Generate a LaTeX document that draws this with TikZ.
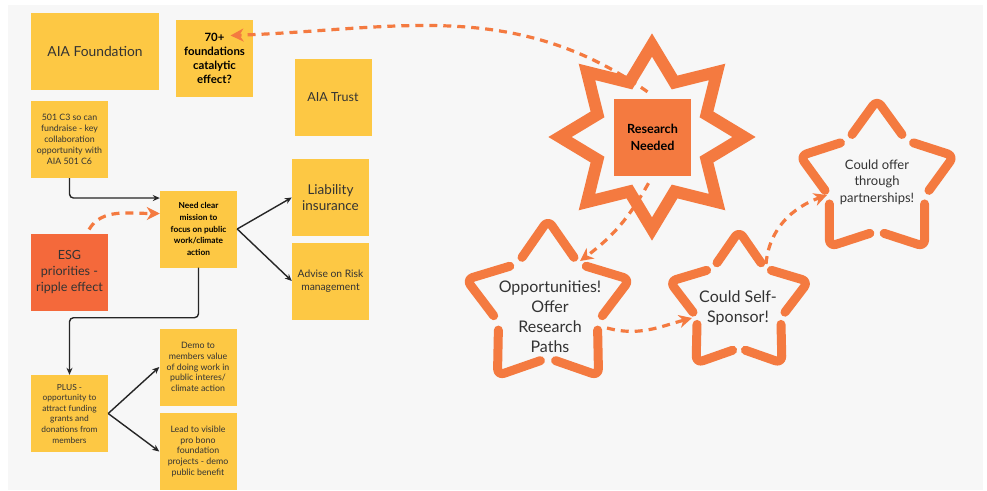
\documentclass[tikz,border=0pt]{standalone}
\usepackage{fontspec}
\setmainfont{Lato}
\usetikzlibrary{arrows.meta, calc, positioning}
\definecolor{stickyyellow}{HTML}{FDC844}
\definecolor{esgred}{HTML}{F4693B}
\definecolor{starorange}{HTML}{F47A40}
\definecolor{inkgray}{HTML}{333333}
\definecolor{boardgray}{HTML}{F7F7F7}

\begin{document}
\begin{tikzpicture}[x=1pt, y=-1pt,
  every node/.style={text=inkgray, align=center, inner sep=1pt},
  sticky/.style={fill=stickyyellow, minimum width=77pt, minimum height=77pt},
  hotsticky/.style={sticky, fill=esgred},
  flow/.style={-{Stealth[length=7pt, width=6pt]}, line width=1.4pt, black!85, rounded corners=4pt},
  hint/.style={-{Stealth[length=13pt, width=13pt, inset=4pt]}, line width=3.2pt, starorange, dash pattern=on 8pt off 6pt},
  starline/.style={line width=9pt, starorange, line cap=round, line join=round, rounded corners=7pt},
  burstline/.style={line width=12pt, starorange, line join=miter},
]
\useasboundingbox (0,0) rectangle (987,490);
\fill[white] (0,0) rectangle (987,490);
\fill[boardgray] (8,5) rectangle (983,490);

% Star outlines
\coordinate (burst) at (652,137);
\coordinate (oppstar) at (548,306);
\coordinate (selfstar) at (739,304);
\coordinate (offerstar) at (877,181);

\draw[burstline] ($(burst)+(67.5:59pt)$)
  \foreach \k in {0,...,6}{ -- ($(burst)+(90+45*\k:92pt)$) -- ($(burst)+(112.5+45*\k:59pt)$)}
  -- ($(burst)+(45:92pt)$) -- cycle;

\foreach \s/\R/\r in {oppstar/86pt/52pt, selfstar/73pt/44pt, offerstar/81pt/50pt}
  \foreach \a in {90,162,234,306,378}
    \draw[starline] ($(\s)+0.85*(\a-36:\r)+0.15*(\a:\R)$) -- ($(\s)+(\a:\R)$)
      -- ($(\s)+0.85*(\a+36:\r)+0.15*(\a:\R)$);

% Define nodes
\node[sticky, minimum width=128pt, font=\fontsize{13.8}{16}\selectfont] (found) at (95,51.5) {AIA Foundation};
\node[sticky, text=black, font=\bfseries\fontsize{11.4}{14}\selectfont] (seventy) at (214.5,58.5) {70+\\foundations\\catalytic\\effect?};
\node[sticky, font=\fontsize{12.5}{14}\selectfont] (trust) at (333,97.5) {AIA Trust};
\node[sticky, font=\fontsize{8.8}{11}\selectfont] (c3) at (69.5,139.5) {501 C3 so can\\fundraise - key\\collaboration\\opportunity with\\AIA 501 C6};
\node[sticky, text=black, font=\bfseries\fontsize{8.3}{11.7}\selectfont] (need) at (198.5,229) {Need clear\\mission to\\focus on public\\work/climate\\action};
\node[sticky, font=\fontsize{13.5}{15.7}\selectfont] (liab) at (330.5,197.5) {Liability\\insurance};
\node[sticky, font=\fontsize{10.3}{12.7}\selectfont] (advise) at (330.5,281) {Advise on Risk\\management};
\node[hotsticky, font=\fontsize{12.6}{16}\selectfont] (esg) at (69.5,272.5) {ESG\\priorities -\\ripple effect};
\node[sticky, font=\fontsize{8.4}{10.6}\selectfont] (plus) at (69.5,413.5) {PLUS -\\opportunity to\\attract funding\\grants and\\donations from\\members};
\node[sticky, font=\fontsize{8.8}{10.8}\selectfont] (demo) at (198,367) {Demo to\\members value\\of doing work in\\public interes/\\climate action};
\node[sticky, font=\fontsize{8.8}{10.8}\selectfont] (lead) at (198,451.5) {Lead to visible\\pro bono\\foundation\\projects - demo\\public benefit};
\node[sticky, fill=starorange, text=black, font=\bfseries\fontsize{12.6}{16.5}\selectfont] (research) at (652.5,137.5) {Research\\Needed};
\node[font=\fontsize{16}{20}\selectfont] (opp) at (550,317) {Opportunities!\\Offer\\Research\\Paths};
\node[font=\fontsize{16}{20}\selectfont] (self) at (738,308) {Could Self-\\Sponsor!};
\node[font=\fontsize{13}{16.5}\selectfont] (offer) at (877,182) {Could offer\\through\\partnerships!};

% Black flow arrows
\draw[flow] (c3.south) |- ($(need.north west)!0.1!(need.south west)$);
\draw[flow] (need.east) -- (liab.west);
\draw[flow] (need.east) -- (advise.west);
\draw[flow] (need.south) -- ++(0,50) -| (plus.north);
\draw[flow] (plus.east) -- (demo.west);
\draw[flow] (plus.east) -- (lead.west);

% Orange dashed hints
\coordinate (seventy-in) at ($(seventy.center)+(16,-23)$);
\coordinate (opp-in) at ($(oppstar)+(32,-45)$);
\coordinate (opp-out) at ($(oppstar)+(59,22)$);
\coordinate (self-in) at ($(selfstar)+(-47,14)$);
\coordinate (self-out) at ($(selfstar)+(27,-40)$);
\coordinate (offer-in) at ($(offerstar)+(-50,14)$);

\draw[hint, shorten <=5pt] ($(esg.north west)!0.72!(esg.north east)$) to[out=60, in=180] ($(need.north west)!0.3!(need.south west)$);
\draw[hint] ($(research.north)+(-5,-7)$) to[out=145, in=2] (seventy-in);
\draw[hint] ($(research.south)+(-4,7)$) to[bend left=12] (opp-in);
\draw[hint] (opp-out) to[out=-15, in=195] (self-in);
\draw[hint] (self-out) to[out=85, in=200] (offer-in);

\end{tikzpicture}
\end{document}
